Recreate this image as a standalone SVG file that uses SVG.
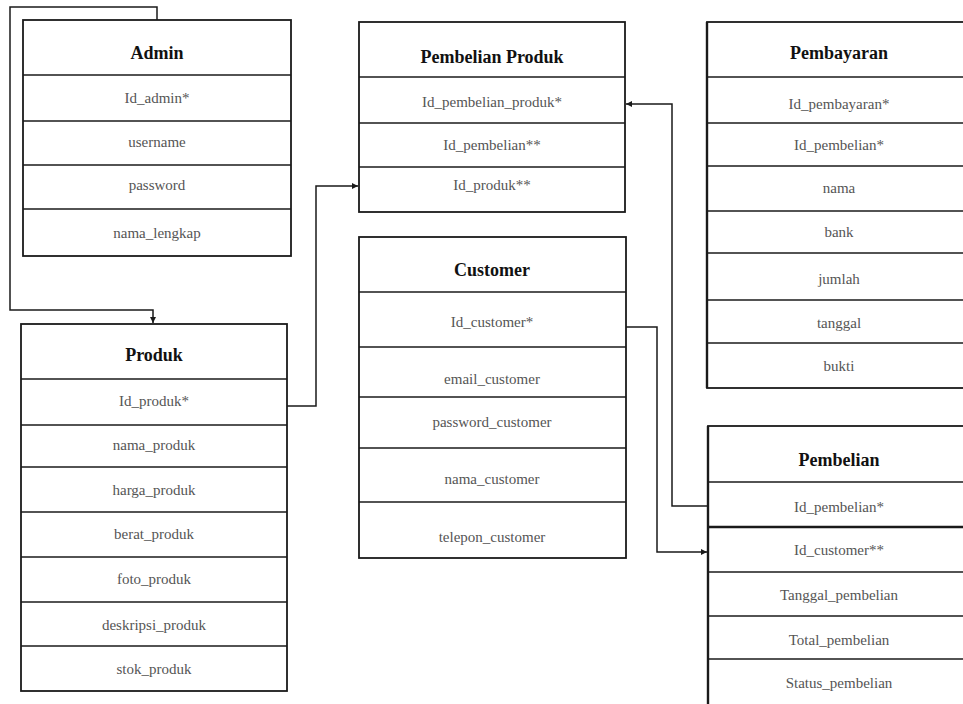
<svg xmlns="http://www.w3.org/2000/svg" width="963" height="704" viewBox="0 0 963 704">
<defs>
<style>
.box{fill:#fff;stroke:#1a1a1a;stroke-width:1.8}
.sep{stroke:#1a1a1a;stroke-width:1.6}
.title{font-family:"Liberation Serif",serif;font-weight:bold;font-size:18px;fill:#111;text-anchor:middle}
.attr{font-family:"Liberation Serif",serif;font-size:15px;fill:#555;text-anchor:middle}
.conn{fill:none;stroke:#1a1a1a;stroke-width:1.5}
</style>
<marker id="arr" markerUnits="userSpaceOnUse" markerWidth="8" markerHeight="8" refX="6" refY="3" orient="auto">
<path d="M0,0 L6,3 L0,6 Z" fill="#1a1a1a"/>
</marker>
</defs>
<rect width="963" height="704" fill="#fff"/>

<g id="connectors">
<path class="conn" d="M157,20 V7 H10 V310 H153 V323" marker-end="url(#arr)"/>
<path class="conn" d="M287,406 H316 V186 H358" marker-end="url(#arr)"/>
<path class="conn" d="M708,506 H672 V104 H626" marker-end="url(#arr)"/>
<path class="conn" d="M626,327 H657 V552 H707" marker-end="url(#arr)"/>
</g>

<g id="admin">
<rect class="box" x="23" y="20" width="268" height="236"/>
<line class="sep" x1="23" y1="75" x2="291" y2="75"/>
<line class="sep" x1="23" y1="121" x2="291" y2="121"/>
<line class="sep" x1="23" y1="165" x2="291" y2="165"/>
<line class="sep" x1="23" y1="209" x2="291" y2="209"/>
<text class="title" x="157" y="59">Admin</text>
<text class="attr" x="157" y="103">Id_admin*</text>
<text class="attr" x="157" y="147">username</text>
<text class="attr" x="157" y="190">password</text>
<text class="attr" x="157" y="238">nama_lengkap</text>
</g>

<g id="produk">
<rect class="box" x="21" y="324" width="266" height="367"/>
<line class="sep" x1="21" y1="379" x2="287" y2="379"/>
<line class="sep" x1="21" y1="425" x2="287" y2="425"/>
<line class="sep" x1="21" y1="467" x2="287" y2="467"/>
<line class="sep" x1="21" y1="512" x2="287" y2="512"/>
<line class="sep" x1="21" y1="557" x2="287" y2="557"/>
<line class="sep" x1="21" y1="602" x2="287" y2="602"/>
<line class="sep" x1="21" y1="646" x2="287" y2="646"/>
<text class="title" x="154" y="361">Produk</text>
<text class="attr" x="154" y="406">Id_produk*</text>
<text class="attr" x="154" y="450">nama_produk</text>
<text class="attr" x="154" y="495">harga_produk</text>
<text class="attr" x="154" y="539">berat_produk</text>
<text class="attr" x="154" y="584">foto_produk</text>
<text class="attr" x="154" y="630">deskripsi_produk</text>
<text class="attr" x="154" y="674">stok_produk</text>
</g>

<g id="pembelian-produk">
<rect class="box" x="359" y="22" width="266" height="190"/>
<line class="sep" x1="359" y1="77" x2="625" y2="77"/>
<line class="sep" x1="359" y1="123" x2="625" y2="123"/>
<line class="sep" x1="359" y1="167" x2="625" y2="167"/>
<text class="title" x="492" y="63">Pembelian Produk</text>
<text class="attr" x="492" y="107">Id_pembelian_produk*</text>
<text class="attr" x="492" y="150">Id_pembelian**</text>
<text class="attr" x="492" y="190">Id_produk**</text>
</g>

<g id="customer">
<rect class="box" x="359" y="237" width="267" height="321"/>
<line class="sep" x1="359" y1="292" x2="626" y2="292"/>
<line class="sep" x1="359" y1="347" x2="626" y2="347"/>
<line class="sep" x1="359" y1="397" x2="626" y2="397"/>
<line class="sep" x1="359" y1="448" x2="626" y2="448"/>
<line class="sep" x1="359" y1="502" x2="626" y2="502"/>
<text class="title" x="492" y="276">Customer</text>
<text class="attr" x="492" y="327">Id_customer*</text>
<text class="attr" x="492" y="384">email_customer</text>
<text class="attr" x="492" y="427">password_customer</text>
<text class="attr" x="492" y="484">nama_customer</text>
<text class="attr" x="492" y="542">telepon_customer</text>
</g>

<g id="pembayaran">
<rect class="box" x="707" y="22" width="262" height="366"/>
<line x1="707" y1="22" x2="707" y2="388" stroke="#1a1a1a" stroke-width="2.4"/>
<line class="sep" x1="707" y1="77" x2="969" y2="77"/>
<line class="sep" x1="707" y1="123" x2="969" y2="123"/>
<line class="sep" x1="707" y1="166" x2="969" y2="166"/>
<line class="sep" x1="707" y1="211" x2="969" y2="211"/>
<line class="sep" x1="707" y1="253" x2="969" y2="253"/>
<line class="sep" x1="707" y1="300" x2="969" y2="300"/>
<line class="sep" x1="707" y1="343" x2="969" y2="343"/>
<text class="title" x="839" y="59">Pembayaran</text>
<text class="attr" x="839" y="109">Id_pembayaran*</text>
<text class="attr" x="839" y="150">Id_pembelian*</text>
<text class="attr" x="839" y="193">nama</text>
<text class="attr" x="839" y="237">bank</text>
<text class="attr" x="839" y="284">jumlah</text>
<text class="attr" x="839" y="328">tanggal</text>
<text class="attr" x="839" y="371">bukti</text>
</g>

<g id="pembelian">
<rect class="box" x="708" y="426" width="262" height="290"/>
<line x1="708" y1="426" x2="708" y2="716" stroke="#1a1a1a" stroke-width="2.4"/>
<line class="sep" x1="708" y1="482" x2="970" y2="482"/>
<line x1="708" y1="527" x2="970" y2="527" stroke="#1a1a1a" stroke-width="2.6"/>
<line class="sep" x1="708" y1="572" x2="970" y2="572"/>
<line class="sep" x1="708" y1="616" x2="970" y2="616"/>
<line class="sep" x1="708" y1="659" x2="970" y2="659"/>
<text class="title" x="839" y="466">Pembelian</text>
<text class="attr" x="839" y="512">Id_pembelian*</text>
<text class="attr" x="839" y="555">Id_customer**</text>
<text class="attr" x="839" y="600">Tanggal_pembelian</text>
<text class="attr" x="839" y="645">Total_pembelian</text>
<text class="attr" x="839" y="688">Status_pembelian</text>
</g>
</svg>
